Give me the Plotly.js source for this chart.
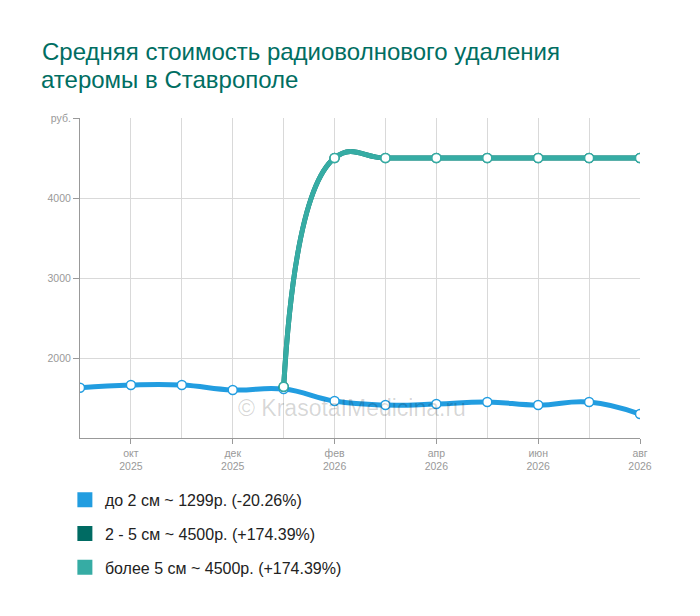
<!DOCTYPE html>
<html>
<head>
<meta charset="utf-8">
<script src="https://cdn.plot.ly/plotly-3.0.1.min.js"></script>
<style>
    body { margin: 0; background: #fff; }
    #chart { width: 700px; height: 616px; }
</style>
</head>
<body>
<div id="chart"></div>
<script>
// months, Sep 2025 .. Aug 2026
var months = ['сен', 'окт', 'ноя', 'дек', 'янв', 'фев', 'мар', 'апр', 'май', 'июн', 'июл', 'авг'];
var years = ['2025', '2025', '2025', '2025', '2026', '2026', '2026', '2026', '2026', '2026', '2026', '2026'];

var small = [1629, 1662, 1662, 1600, 1612, 1462, 1412, 1425, 1450, 1412, 1450, 1299];
var medium = [null, null, null, null, 1640, 4500, 4500, 4500, 4500, 4500, 4500, 4500];
var large = [null, null, null, null, 1640, 4500, 4500, 4500, 4500, 4500, 4500, 4500];

var names = ['до 2 см ~ 1299р. (-20.26%)', '2 - 5 см ~ 4500р. (+174.39%)', 'более 5 см ~ 4500р. (+174.39%)'];
var colors = ['#229de0', '#006b63', '#36aca4'];

var yTicks = [2000, 3000, 4000, 5000];
var yLabels = ['2000', '3000', '4000', 'руб.'];

var titleLines = ['Средняя стоимость радиоволнового удаления', 'атеромы в Ставрополе'];

var idx = months.map(function (m, i) { return i; });
var tickIdx = idx.filter(function (i) { return i % 2 === 1; });
var tickText = tickIdx.map(function (i) { return months[i] + '<br>' + years[i]; });

var series = [small, medium, large];
var traces = [];
series.forEach(function (vals, k) {
    traces.push({
        x: idx,
        y: vals,
        type: 'scatter',
        mode: 'lines+markers',
        line: { color: colors[k], width: 5, shape: 'spline', smoothing: 1.3 },
        marker: { color: '#fff', size: 9, line: { color: colors[k], width: 1.5 } },
        showlegend: false,
        hoverinfo: 'skip'
    });
});
// legend entries with square swatches
series.forEach(function (vals, k) {
    traces.push({
        x: [null],
        y: [null],
        type: 'scatter',
        mode: 'markers',
        name: names[k],
        legendgroup: 'g' + k,
        marker: { color: colors[k], size: 15, symbol: 'square' }
    });
});

var titleFont = { family: 'Liberation Sans, Arial, sans-serif', size: 24, color: '#006e62' };

var layout = {
    width: 700,
    height: 616,
    margin: { l: 80, r: 60, t: 118, b: 178 },
    paper_bgcolor: '#fff',
    plot_bgcolor: '#fff',
    font: { family: 'Liberation Sans, Arial, sans-serif', color: '#999', size: 10.5 },
    title: {
        text: titleLines[0],
        font: titleFont,
        x: 0.06, xanchor: 'left',
        y: 1 - 52 / 616, yref: 'container', yanchor: 'middle'
    },
    xaxis: {
        range: [0, 11],
        tickvals: tickIdx,
        ticktext: tickText,
        ticks: 'outside',
        ticklen: 5,
        tickcolor: '#999',
        showline: true,
        linecolor: '#999',
        showgrid: true,
        gridcolor: '#d9d9d9',
        zeroline: false,
        minor: { dtick: 1, tick0: 0, showgrid: true, gridcolor: '#d9d9d9', ticks: '' },
        fixedrange: true
    },
    yaxis: {
        range: [1000, 5000],
        tickvals: yTicks,
        ticktext: yLabels,
        ticks: 'outside',
        ticklen: 6,
        tickcolor: '#999',
        showline: true,
        linecolor: '#999',
        showgrid: true,
        gridcolor: '#d9d9d9',
        zeroline: false,
        fixedrange: true
    },
    legend: {
        x: -0.027,
        xanchor: 'left',
        y: -0.14,
        yanchor: 'top',
        orientation: 'v',
        tracegroupgap: 10,
        font: { size: 16, color: '#222' },
        bgcolor: 'rgba(0,0,0,0)'
    },
    annotations: [{
        text: titleLines[1],
        xref: 'paper', yref: 'paper',
        x: -0.0715, xanchor: 'left',
        y: 1 + (118 - 79) / 320, yanchor: 'middle',
        borderpad: 0,
        showarrow: false,
        font: titleFont
    }, {
        text: '© KrasotaIMedicina.ru',
        xref: 'paper', yref: 'paper',
        x: 0.486, xanchor: 'center',
        y: (438 - 408) / 320, yanchor: 'middle',
        showarrow: false,
        font: { size: 23, color: 'rgba(0,0,0,0.16)' }
    }]
};

Plotly.newPlot('chart', traces, layout, { displayModeBar: false, staticPlot: true });
</script>
</body>
</html>
